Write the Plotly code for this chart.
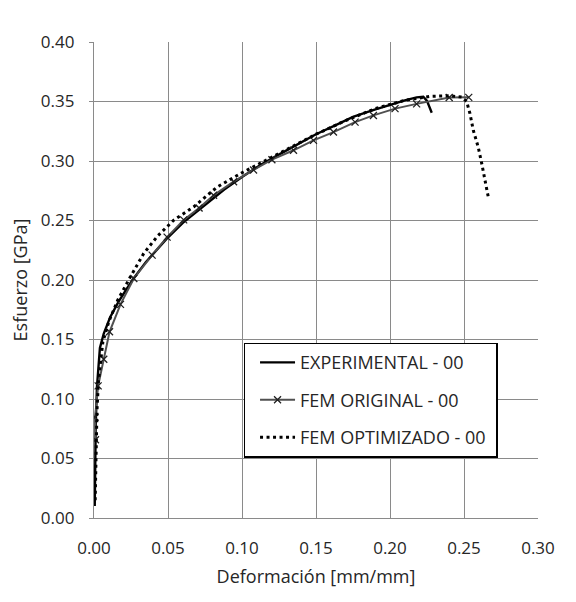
import plotly.graph_objects as go

# Experimental curve
exp_x = [0.0005, 0.0008, 0.0012, 0.0020, 0.0028, 0.0040, 0.0066, 0.0110, 0.0167, 0.026,
         0.035, 0.049, 0.060, 0.0764, 0.088, 0.100, 0.113, 0.1258, 0.138, 0.150,
         0.163, 0.175, 0.188, 0.200, 0.210, 0.218, 0.2225, 0.2250, 0.2270, 0.2282]
exp_y = [0.010, 0.040, 0.080, 0.110, 0.127, 0.143, 0.155, 0.169, 0.182, 0.200,
         0.215, 0.2345, 0.248, 0.264, 0.276, 0.2866, 0.297, 0.306, 0.314, 0.3225,
         0.330, 0.337, 0.3425, 0.3475, 0.351, 0.3535, 0.3540, 0.3505, 0.3450, 0.3406]

# FEM original
fem_x = [0.0010, 0.0007, 0.0028, 0.0066, 0.0105, 0.0179, 0.0269, 0.0393, 0.0494, 0.0606,
         0.0710, 0.0808, 0.0943, 0.1078, 0.1202, 0.1348, 0.1483, 0.1618, 0.1764, 0.1888,
         0.2034, 0.2180, 0.2400, 0.2532]
fem_y = [0.0657, 0.0847, 0.1110, 0.1334, 0.1565, 0.1795, 0.2013, 0.2209, 0.2360, 0.2505,
         0.2605, 0.2712, 0.2826, 0.2925, 0.3011, 0.3090, 0.3173, 0.3243, 0.3327, 0.3383,
         0.3440, 0.3480, 0.3533, 0.3535]

# FEM optimizado
opt_x = [0.0008, 0.0012, 0.0020, 0.0030, 0.0040, 0.0060, 0.0100, 0.0160, 0.0246, 0.0336,
         0.0430, 0.0539, 0.0673, 0.0831, 0.0989, 0.115, 0.130, 0.150, 0.170, 0.190,
         0.210, 0.227, 0.2405, 0.2484, 0.2518, 0.2540, 0.2563, 0.2596, 0.2620, 0.2642, 0.2664]
opt_y = [0.015, 0.050, 0.090, 0.115, 0.128, 0.148, 0.165, 0.183, 0.2027, 0.2223,
         0.237, 0.2503, 0.2614, 0.278, 0.2894, 0.300, 0.310, 0.3225, 0.334, 0.344,
         0.351, 0.3543, 0.3548, 0.3537, 0.3500, 0.3400, 0.3257, 0.3117, 0.2978, 0.2838, 0.2698]

x_ticks = [0.00, 0.05, 0.10, 0.15, 0.20, 0.25, 0.30]
y_ticks = [0.00, 0.05, 0.10, 0.15, 0.20, 0.25, 0.30, 0.35, 0.40]

FONT = "Open Sans"
GRID = "#8a8a8a"
TXT = "#262626"

fig = go.Figure()
fig.add_trace(go.Scatter(x=exp_x, y=exp_y, mode="lines", name="EXPERIMENTAL - 00",
                         line=dict(color="#000000", width=2.4), legendgroup="a"))
fig.add_trace(go.Scatter(x=fem_x, y=fem_y, mode="lines+markers", name="FEM ORIGINAL - 00",
                         line=dict(color="#505050", width=2),
                         marker=dict(symbol="x-thin", size=7, color="#202020",
                                     line=dict(color="#202020", width=1.3)),
                         legendgroup="b"))
fig.add_trace(go.Scatter(x=opt_x, y=opt_y, mode="lines", name="FEM OPTIMIZADO - 00\u00a0",
                         line=dict(color="#000000", width=3, dash="3px,3.5px"), legendgroup="c"))

fig.update_layout(
    width=568, height=594,
    margin=dict(l=85.5, r=37.7, t=33.7, b=83.7, autoexpand=False),
    paper_bgcolor="white", plot_bgcolor="white",
    font=dict(family=FONT, size=17, color=TXT),
    xaxis=dict(range=[0, 0.30], tickvals=x_ticks, tickformat=".2f",
               showgrid=True, gridcolor=GRID, gridwidth=1.3,
               showline=True, linecolor=GRID, linewidth=1.3, zeroline=False,
               ticks="", tickfont=dict(size=17, color=TXT), ticklabelstandoff=14,
               title=dict(text="Deformación [mm/mm]", font=dict(size=18, color=TXT), standoff=12)),
    yaxis=dict(range=[0, 0.40], tickvals=y_ticks, tickformat=".2f",
               showgrid=True, gridcolor=GRID, gridwidth=1.3,
               showline=True, linecolor=GRID, linewidth=1.3, zeroline=False,
               ticks="outside", ticklen=4, tickcolor=GRID, tickfont=dict(size=17, color=TXT),
               ticklabelstandoff=11,
               title=dict(text="Esfuerzo [GPa]", font=dict(size=18, color=TXT), standoff=22)),
    legend=dict(x=0.3368, y=0.3684, xanchor="left", yanchor="top",
                bgcolor="white", bordercolor="#000000", borderwidth=1.5,
                font=dict(size=18, color=TXT), tracegroupgap=11, traceorder="grouped",
                itemwidth=35, indentation=10),
    showlegend=True,
)

fig.write_html("out.html")
